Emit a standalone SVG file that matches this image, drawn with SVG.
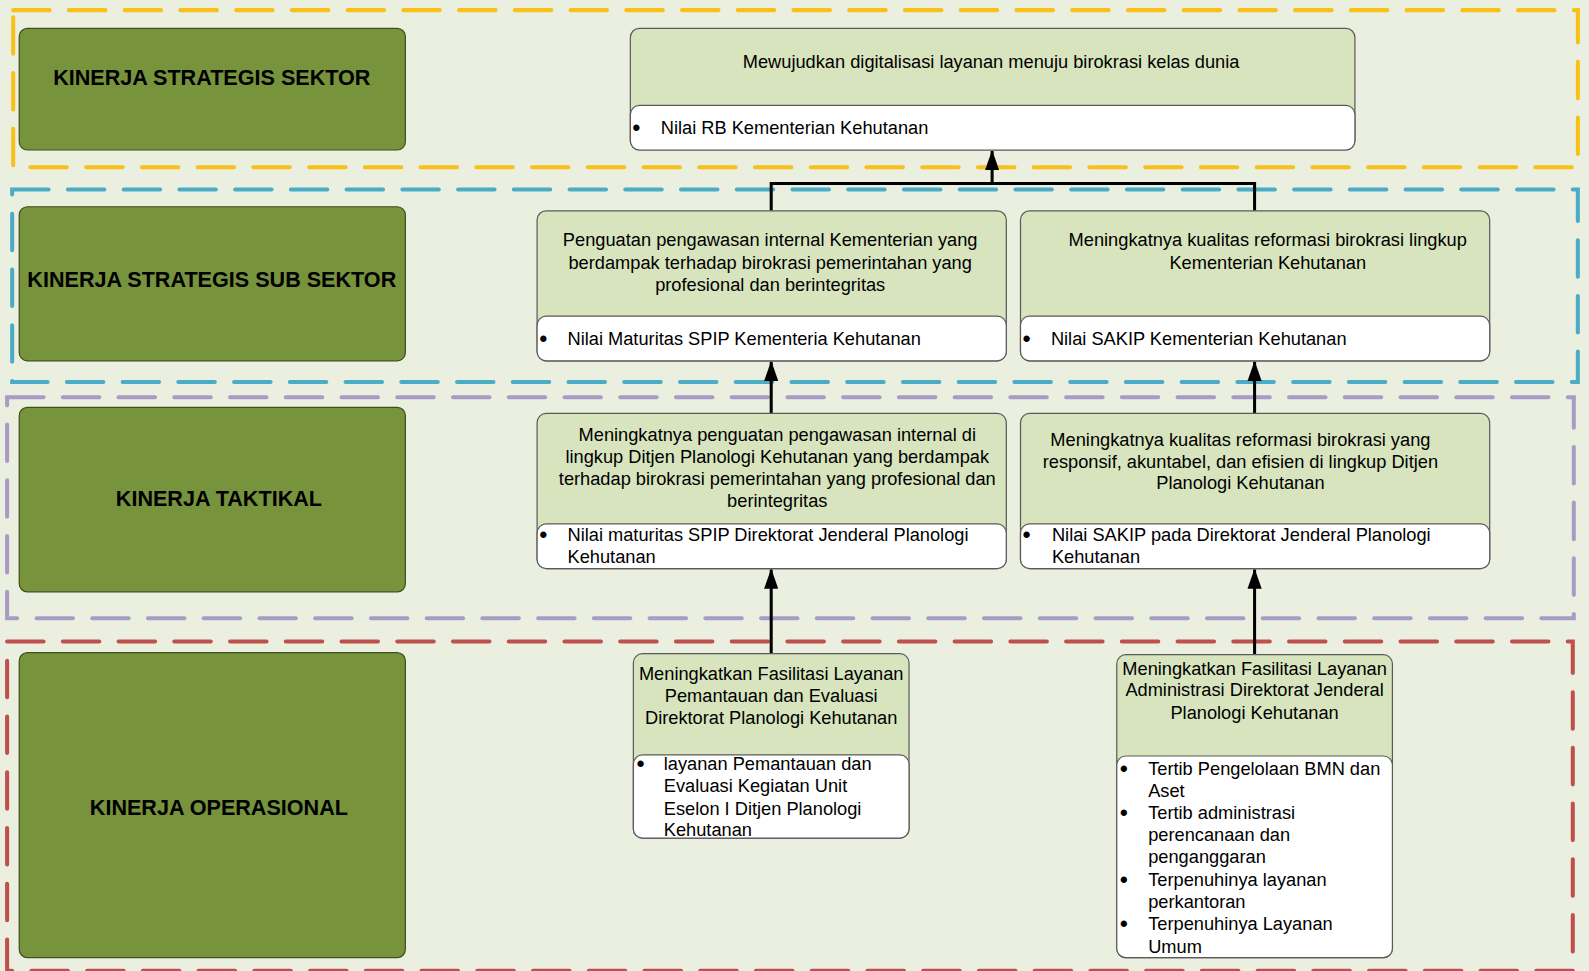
<svg xmlns="http://www.w3.org/2000/svg" width="1589" height="971" viewBox="0 0 1589 971">
<defs>
<style>
.frame{fill:none;stroke-width:4;stroke-dasharray:36 19;stroke-linecap:round}
.lbl{fill:#77933C;stroke:#3F4F1E;stroke-width:1.2}
.lt{font-family:"Liberation Sans",Arial,sans-serif;font-size:21.3px;font-weight:bold;fill:#000;text-anchor:middle}
.hd{fill:#D7E4BD;stroke:#5A5A5A;stroke-width:1.2}
.wb{fill:#FFFFFF;stroke:#5A5A5A;stroke-width:1.2}
.t{font-family:"Liberation Sans",Arial,sans-serif;font-size:18px;fill:#000}
.b{font-family:"Liberation Sans",Arial,sans-serif;font-size:23px;fill:#000}
.c{text-anchor:middle}
.con{fill:none;stroke:#000;stroke-width:3}
</style>
<marker id="ar" markerWidth="20" markerHeight="14" refX="19" refY="7" orient="auto" markerUnits="userSpaceOnUse" viewBox="0 0 20 14">
<path d="M0,0 L20,7 L0,14 Z" fill="#000"/>
</marker>
</defs>
<rect x="0" y="0" width="1589" height="971" fill="#EBEFDF"/>
<g id="diagram" transform="scale(1.0134)">

<g id="frames">
<rect class="frame" x="13" y="10" width="1544" height="155" stroke="#F9C01A"/>
<rect class="frame" x="12" y="187" width="1545" height="190" stroke="#4BACC6"/>
<rect class="frame" x="7" y="392" width="1546" height="218" stroke="#A99BC6"/>
<rect class="frame" x="7" y="633" width="1545" height="325" stroke="#C0504D"/>
</g>

<g id="lbl-sektor">
<rect class="lbl" x="19" y="28" width="381" height="120" rx="8"/>
<text class="lt" x="209" y="84">KINERJA STRATEGIS SEKTOR</text>
</g>
<g id="lbl-subsektor">
<rect class="lbl" x="19" y="204" width="381" height="152" rx="8"/>
<text class="lt" x="209" y="283">KINERJA STRATEGIS SUB SEKTOR</text>
</g>
<g id="lbl-taktikal">
<rect class="lbl" x="19" y="402" width="381" height="182" rx="8"/>
<text class="lt" x="216" y="499">KINERJA TAKTIKAL</text>
</g>
<g id="lbl-operasional">
<rect class="lbl" x="19" y="644" width="381" height="301" rx="8"/>
<text class="lt" x="216" y="804">KINERJA OPERASIONAL</text>
</g>

<g id="connectors">
<polyline class="con" points="761,208 761,181 1238,181 1238,208"/>
<line class="con" x1="979" y1="181" x2="979" y2="149" marker-end="url(#ar)"/>
<line class="con" x1="761" y1="408" x2="761" y2="357" marker-end="url(#ar)"/>
<line class="con" x1="1238" y1="408" x2="1238" y2="357" marker-end="url(#ar)"/>
<line class="con" x1="761" y1="645" x2="761" y2="562" marker-end="url(#ar)"/>
<line class="con" x1="1238" y1="646" x2="1238" y2="562" marker-end="url(#ar)"/>
</g>

<g id="node-sektor">
<rect class="hd" x="622" y="28" width="715" height="120" rx="9"/>
<rect class="wb" x="622" y="104" width="715" height="44" rx="9"/>
<text class="t c" x="978" y="67">Mewujudkan digitalisasi layanan menuju birokrasi kelas dunia</text>
<text class="b" x="624" y="134">•</text>
<text class="t" x="652" y="132">Nilai RB Kementerian Kehutanan</text>
</g>

<g id="node-sub-1">
<rect class="hd" x="530" y="208" width="463" height="148" rx="9"/>
<rect class="wb" x="530" y="312" width="463" height="44" rx="9"/>
<text class="t c" x="760" y="243">Penguatan pengawasan internal Kementerian yang</text>
<text class="t c" x="760" y="265">berdampak terhadap birokrasi pemerintahan yang</text>
<text class="t c" x="760" y="287">profesional dan berintegritas</text>
<text class="b" x="532" y="342">•</text>
<text class="t" x="560" y="340">Nilai Maturitas SPIP Kementeria Kehutanan</text>
</g>

<g id="node-sub-2">
<rect class="hd" x="1007" y="208" width="463" height="148" rx="9"/>
<rect class="wb" x="1007" y="312" width="463" height="44" rx="9"/>
<text class="t c" x="1251" y="243">Meningkatnya kualitas reformasi birokrasi lingkup</text>
<text class="t c" x="1251" y="265">Kementerian Kehutanan</text>
<text class="b" x="1009" y="342">•</text>
<text class="t" x="1037" y="340">Nilai SAKIP Kementerian Kehutanan</text>
</g>

<g id="node-tak-1">
<rect class="hd" x="530" y="408" width="463" height="153" rx="9"/>
<rect class="wb" x="530" y="517" width="463" height="44" rx="9"/>
<text class="t c" x="767" y="435">Meningkatnya penguatan pengawasan internal di</text>
<text class="t c" x="767" y="457">lingkup Ditjen Planologi Kehutanan yang berdampak</text>
<text class="t c" x="767" y="479">terhadap birokrasi pemerintahan yang profesional dan</text>
<text class="t c" x="767" y="500">berintegritas</text>
<text class="b" x="532" y="536">•</text>
<text class="t" x="560" y="534">Nilai maturitas SPIP Direktorat Jenderal Planologi</text>
<text class="t" x="560" y="556">Kehutanan</text>
</g>

<g id="node-tak-2">
<rect class="hd" x="1007" y="408" width="463" height="153" rx="9"/>
<rect class="wb" x="1007" y="517" width="463" height="44" rx="9"/>
<text class="t c" x="1224" y="440">Meningkatnya kualitas reformasi birokrasi yang</text>
<text class="t c" x="1224" y="462">responsif, akuntabel, dan efisien di lingkup Ditjen</text>
<text class="t c" x="1224" y="483">Planologi Kehutanan</text>
<text class="b" x="1009" y="536">•</text>
<text class="t" x="1038" y="534">Nilai SAKIP pada Direktorat Jenderal Planologi</text>
<text class="t" x="1038" y="556">Kehutanan</text>
</g>

<g id="node-op-1">
<rect class="hd" x="625" y="645" width="272" height="182" rx="9"/>
<rect class="wb" x="625" y="745" width="272" height="82" rx="9"/>
<text class="t c" x="761" y="671">Meningkatkan Fasilitasi Layanan</text>
<text class="t c" x="761" y="693">Pemantauan dan Evaluasi</text>
<text class="t c" x="761" y="714">Direktorat Planologi Kehutanan</text>
<text class="b" x="628" y="762">•</text>
<text class="t" x="655" y="760">layanan Pemantauan dan</text>
<text class="t" x="655" y="782">Evaluasi Kegiatan Unit</text>
<text class="t" x="655" y="804">Eselon I Ditjen Planologi</text>
<text class="t" x="655" y="825">Kehutanan</text>
</g>

<g id="node-op-2">
<rect class="hd" x="1102" y="646" width="272" height="299" rx="9"/>
<rect class="wb" x="1102" y="746" width="272" height="199" rx="9"/>
<text class="t c" x="1238" y="666">Meningkatkan Fasilitasi Layanan</text>
<text class="t c" x="1238" y="687">Administrasi Direktorat Jenderal</text>
<text class="t c" x="1238" y="709">Planologi Kehutanan</text>
<text class="b" x="1105" y="767">•</text>
<text class="t" x="1133" y="765">Tertib Pengelolaan BMN dan</text>
<text class="t" x="1133" y="786">Aset</text>
<text class="b" x="1105" y="810">•</text>
<text class="t" x="1133" y="808">Tertib administrasi</text>
<text class="t" x="1133" y="830">perencanaan dan</text>
<text class="t" x="1133" y="852">penganggaran</text>
<text class="b" x="1105" y="876">•</text>
<text class="t" x="1133" y="874">Terpenuhinya layanan</text>
<text class="t" x="1133" y="896">perkantoran</text>
<text class="b" x="1105" y="920">•</text>
<text class="t" x="1133" y="918">Terpenuhinya Layanan</text>
<text class="t" x="1133" y="940">Umum</text>
</g>
</g>
</svg>
